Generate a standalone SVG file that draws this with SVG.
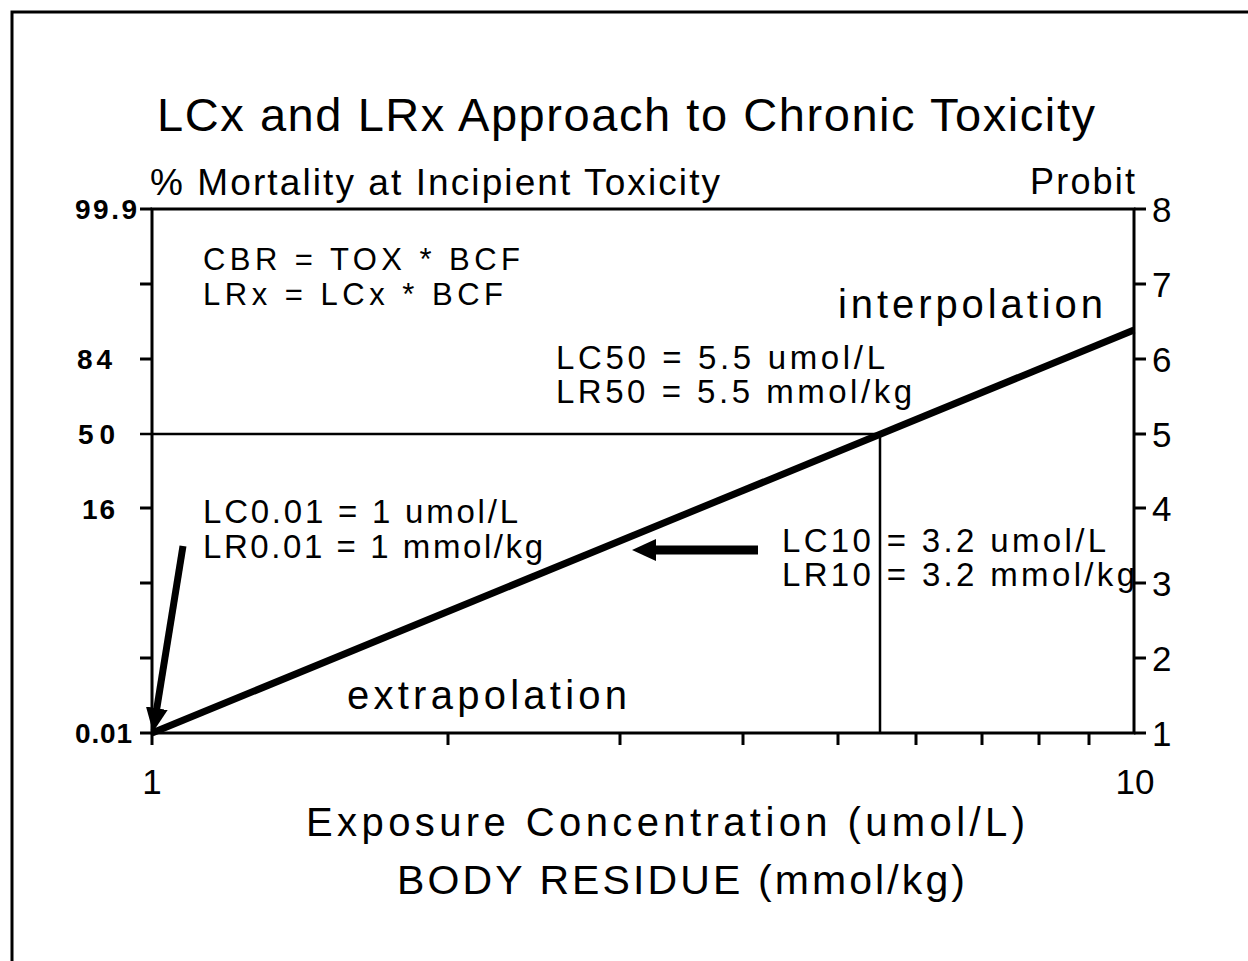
<svg xmlns="http://www.w3.org/2000/svg" width="1248" height="961" viewBox="0 0 1248 961">
<style>
text{font-family:"Liberation Sans",Arial,sans-serif;fill:#000}
.ax{stroke:#000;stroke-width:3;fill:none}
.tk{stroke:#000;stroke-width:3}
.ref{stroke:#000;stroke-width:2.5}
.lbl{font-size:33px}
.yl{font-size:28px;font-weight:bold}
.pl{font-size:35px}
</style>
<defs>
<marker id="ah" markerUnits="userSpaceOnUse" markerWidth="26" markerHeight="24" viewBox="0 0 26 24" refX="2" refY="12" orient="auto">
<path d="M0,1 L24,12 L0,23 z" fill="#000"/>
</marker>
</defs>
<rect width="1248" height="961" fill="#fff"/>
<g id="frame">
<path d="M12,961 V12 H1248" class="ax"/>
</g>
<g id="title">
<text x="157" y="131" font-size="47" textLength="938" lengthAdjust="spacing">LCx and LRx Approach to Chronic Toxicity</text>
</g>
<g id="axes">
<rect x="152" y="209" width="982" height="524" class="ax"/>
<g class="tk">
<line x1="140" y1="209" x2="152" y2="209"/>
<line x1="140" y1="284" x2="152" y2="284"/>
<line x1="140" y1="359" x2="152" y2="359"/>
<line x1="140" y1="508" x2="152" y2="508"/>
<line x1="140" y1="583" x2="152" y2="583"/>
<line x1="140" y1="658" x2="152" y2="658"/>
<line x1="140" y1="733" x2="152" y2="733"/>
<line x1="1134" y1="209" x2="1146" y2="209"/>
<line x1="1134" y1="284" x2="1146" y2="284"/>
<line x1="1134" y1="359" x2="1146" y2="359"/>
<line x1="1134" y1="434" x2="1146" y2="434"/>
<line x1="1134" y1="508" x2="1146" y2="508"/>
<line x1="1134" y1="583" x2="1146" y2="583"/>
<line x1="1134" y1="658" x2="1146" y2="658"/>
<line x1="1134" y1="733" x2="1146" y2="733"/>
<line x1="152" y1="733" x2="152" y2="745"/>
<line x1="448" y1="733" x2="448" y2="745"/>
<line x1="620" y1="733" x2="620" y2="745"/>
<line x1="743" y1="733" x2="743" y2="745"/>
<line x1="838" y1="733" x2="838" y2="745"/>
<line x1="916" y1="733" x2="916" y2="745"/>
<line x1="982" y1="733" x2="982" y2="745"/>
<line x1="1039" y1="733" x2="1039" y2="745"/>
<line x1="1089" y1="733" x2="1089" y2="745"/>
</g>
<text x="150" y="195" font-size="37" textLength="570" lengthAdjust="spacing">% Mortality at Incipient Toxicity</text>
<text x="1030" y="194" font-size="36" textLength="105" lengthAdjust="spacing">Probit</text>
<text class="yl" x="75" y="219" textLength="62" lengthAdjust="spacing">99.9</text>
<text class="yl" x="77" y="369" textLength="35" lengthAdjust="spacing">84</text>
<text class="yl" x="78" y="444" textLength="37" lengthAdjust="spacing">50</text>
<text class="yl" x="82" y="519" textLength="33" lengthAdjust="spacing">16</text>
<text class="yl" x="75" y="743" textLength="57" lengthAdjust="spacing">0.01</text>
<text class="pl" x="1152" y="222">8</text>
<text class="pl" x="1152" y="297">7</text>
<text class="pl" x="1152" y="372">6</text>
<text class="pl" x="1152" y="447">5</text>
<text class="pl" x="1152" y="521">4</text>
<text class="pl" x="1152" y="596">3</text>
<text class="pl" x="1152" y="671">2</text>
<text class="pl" x="1152" y="746">1</text>
<text x="152" y="794" font-size="35" text-anchor="middle">1</text>
<text x="1135" y="794" font-size="35" text-anchor="middle">10</text>
<text x="306" y="836" font-size="40" textLength="719" lengthAdjust="spacing">Exposure Concentration (umol/L)</text>
<text x="397" y="894" font-size="41" textLength="568" lengthAdjust="spacing">BODY RESIDUE (mmol/kg)</text>
</g>
<g id="reference-lines">
<line x1="140" y1="434" x2="880" y2="434" class="ref"/>
<line x1="880" y1="434" x2="880" y2="733" class="ref"/>
</g>
<g id="curve">
<line x1="152" y1="733" x2="1134" y2="330" stroke="#000" stroke-width="7"/>
</g>
<g id="connectors">
<line x1="183" y1="546" x2="156.5" y2="710.3" stroke="#000" stroke-width="7" marker-end="url(#ah)"/>
<line x1="758" y1="550" x2="654" y2="550" stroke="#000" stroke-width="9" marker-end="url(#ah)"/>
</g>
<g id="annotations">
<text x="203" y="270" textLength="317" lengthAdjust="spacing" style="font-size:31px">CBR = TOX * BCF</text>
<text x="203" y="305" textLength="300" lengthAdjust="spacing" style="font-size:31px">LRx = LCx * BCF</text>
<text x="838" y="318" font-size="40" textLength="265" lengthAdjust="spacing">interpolation</text>
<text class="lbl" x="556" y="369" textLength="329" lengthAdjust="spacing">LC50 = 5.5 umol/L</text>
<text class="lbl" x="556" y="403" textLength="356" lengthAdjust="spacing">LR50 = 5.5 mmol/kg</text>
<text class="lbl" x="203" y="523" textLength="315" lengthAdjust="spacing">LC0.01 = 1 umol/L</text>
<text class="lbl" x="203" y="558" textLength="340" lengthAdjust="spacing">LR0.01 = 1 mmol/kg</text>
<text class="lbl" x="782" y="552" textLength="324" lengthAdjust="spacing">LC10 = 3.2 umol/L</text>
<text class="lbl" x="782" y="586" textLength="353" lengthAdjust="spacing">LR10 = 3.2 mmol/kg</text>
<text x="347" y="709" font-size="40" textLength="280" lengthAdjust="spacing">extrapolation</text>
</g>
</svg>
